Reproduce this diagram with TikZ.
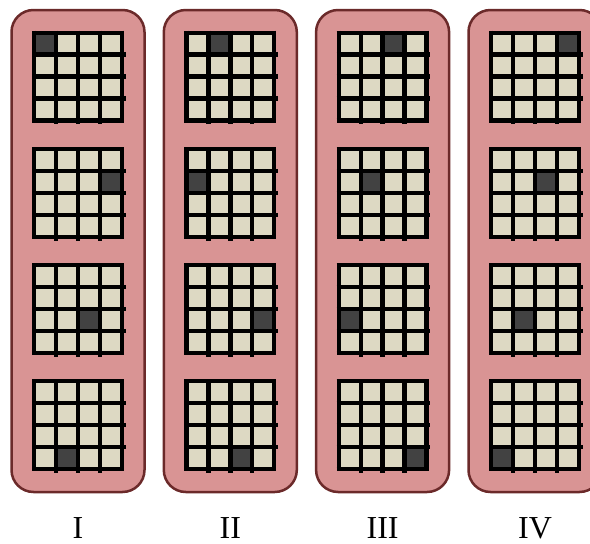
\documentclass[tikz,border=0pt]{standalone}
\usepackage{fontspec}
\setmainfont{Liberation Serif}
\definecolor{panelfill}{HTML}{D99494}
\definecolor{paneldraw}{HTML}{6B2A2A}
\definecolor{cellfill}{HTML}{DDD9C3}
\definecolor{celldark}{HTML}{424242}
\begin{document}
\begin{tikzpicture}[x=1pt,y=-1pt,
  panel/.style={fill=panelfill,draw=paneldraw,line width=2.5pt,rounded corners=22pt},
  gridline/.style={line width=4.4pt,draw=black},
  lbl/.style={font=\fontsize{32}{32}\selectfont,anchor=base,inner sep=0pt}]
\clip (0,0) rectangle (590,544);
\foreach \ci/\gx/\lab in {0/32/I,1/184.3/II,2/336.6/III,3/489/IV}{
  \draw[panel] (\gx-20.5,10) rectangle (\gx+112.5,492);
  \node[lbl] (label\ci) at (\gx+46,538) {\lab};
  \foreach \ri/\gy in {0/30.5,1/147,2/263,3/379}{
    \pgfmathtruncatemacro{\kk}{mod(\ci-\ri+4,4)}
    \fill[cellfill] (\gx,\gy) rectangle ++(92,92);
    \fill[celldark] (\gx+2+22*\kk,\gy+2+22*\ri) rectangle ++(22,22);
    \foreach \ii in {0,4}{
      \draw[gridline] (\gx+2.2+21.9*\ii,\gy) -- ++(0,92);
      \draw[gridline] (\gx,\gy+2.2+21.9*\ii) -- ++(92,0);
    }
    \foreach \ii in {1,2,3}{
      \draw[gridline] (\gx+2.2+21.9*\ii,\gy) -- ++(0,93.5);
      \draw[gridline] (\gx,\gy+2.2+21.9*\ii) -- ++(93.5,0);
    }
  }
}
\end{tikzpicture}
\end{document}
